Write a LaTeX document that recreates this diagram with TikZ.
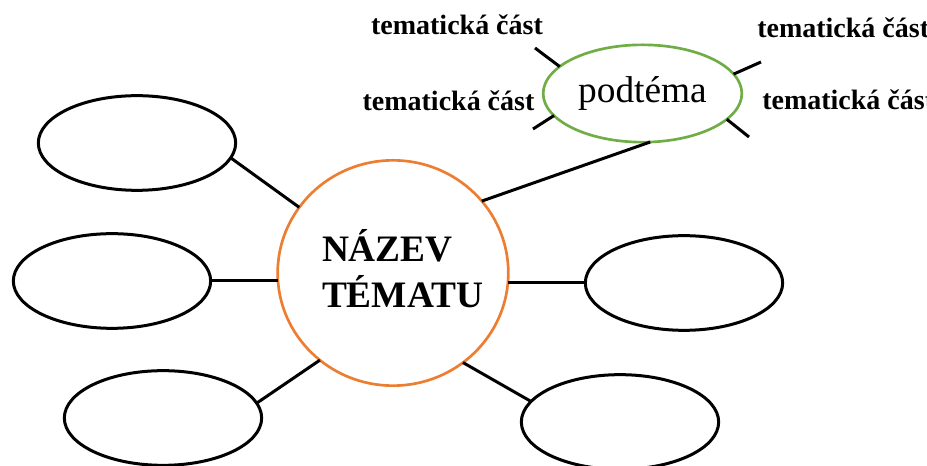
\documentclass[tikz,border=0pt]{standalone}
\usepackage{fontspec}
\setmainfont{Liberation Serif}
\usetikzlibrary{shapes.geometric, calc}

\definecolor{topicorange}{HTML}{ED7D31}
\definecolor{subgreen}{HTML}{70AD47}

\begin{document}
\begin{tikzpicture}[
    x=0.75pt, y=0.75pt,
    bubble/.style={ellipse, draw, line width=2.25pt, minimum width=148pt, minimum height=71pt, outer sep=0pt},
    topic/.style={ellipse, draw=topicorange, line width=2pt, minimum width=173pt, minimum height=169pt, outer sep=0pt,
        font=\fontsize{28}{34.5}\selectfont\bfseries, text width=106.5pt, text depth=42pt, align=left},
    subtopic/.style={ellipse, draw=subgreen, line width=2pt, minimum width=149pt, minimum height=73pt, outer sep=0pt,
        font=\fontsize{28}{34}\selectfont},
    part/.style={font=\fontsize{21}{25}\selectfont\bfseries, inner sep=0pt},
    link/.style={line width=2.25pt},
]

    \useasboundingbox (-393,-193) rectangle (534,273);
    \clip (-393,-193) rectangle (534,273);

    % Central topic
    \node[topic] (tema) at (0,0) {NÁZEV\\TÉMATU};

    % Empty bubbles around the topic
    \node[bubble] (lefttop) at ($(tema)+(-256,130)$) {};
    \node[bubble] (leftmid) at ($(tema)+(-281,-8)$) {};
    \node[bubble] (leftbot) at ($(tema)+(-230,-145)$) {};
    \node[bubble] (rightmid) at ($(tema)+(291,-10)$) {};
    \node[bubble] (rightbot) at ($(tema)+(227,-149)$) {};

    % Subtopic
    \node[subtopic] (sub) at ($(tema)+(249.5,179.5)$) {podtéma};

    % Subtopic parts
    \node[part, anchor=base] (part_tl) at ($(tema)+(64,238)$) {tematická část};
    \node[part, anchor=base] (part_l) at ($(tema)+(55.5,162)$) {tematická část};
    \node[part, anchor=base west] (part_tr) at ($(tema)+(364,235)$) {tematická část};
    \node[part, anchor=base west] (part_r) at ($(tema)+(369,163)$) {tematická část};

    \coordinate (tick_tl) at ($(tema)+(142,225)$);
    \coordinate (tick_l) at ($(tema)+(140,144)$);
    \coordinate (tick_tr) at ($(tema)+(368,211)$);
    \coordinate (tick_r) at ($(tema)+(356,136)$);

    % Links between topic and bubbles
    \draw[link] (lefttop.-9) -- (tema.145);
    \draw[link] (leftmid.east) -- (leftmid.east -| tema.west);
    \draw[link] (leftbot.9) -- (tema.230);
    \draw[link] (rightmid.west) -- (rightmid.west -| tema.east);
    \draw[link] (rightbot.167) -- (tema.308);
    \draw[link] (sub.279) -- (tema.39);

    % Ticks on the subtopic
    \draw[link] (sub.162) -- (tick_tl);
    \draw[link] (sub.194) -- (tick_l);
    \draw[link] (sub.12.5) -- (tick_tr);
    \draw[link] (sub.343) -- (tick_r);

\end{tikzpicture}
\end{document}
